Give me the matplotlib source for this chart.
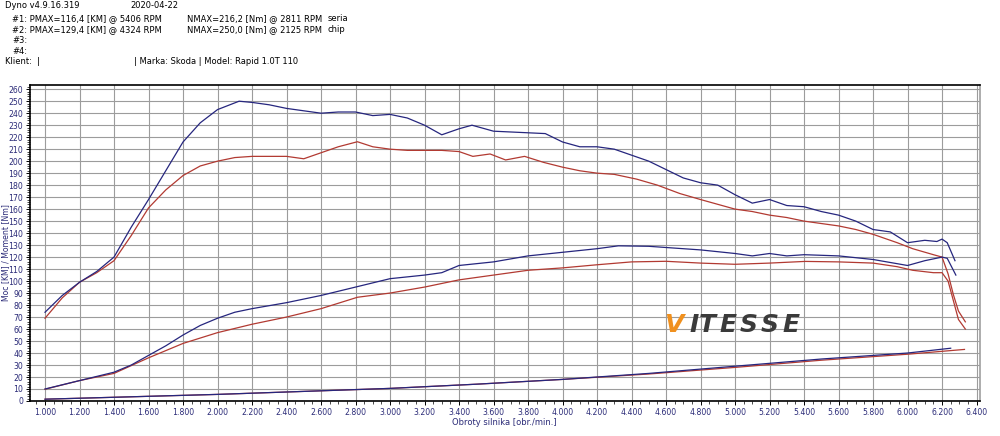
import matplotlib
matplotlib.use("Agg")
import matplotlib.pyplot as plt
from matplotlib.ticker import MultipleLocator, FuncFormatter

# === DATA ===
rpm_chip_tq = [1000, 1100, 1200, 1300, 1400, 1500, 1600, 1700, 1800, 1900, 2000, 2125, 2200, 2300,
               2400, 2500, 2600, 2700, 2800, 2900, 3000, 3100, 3200, 3300, 3400, 3475, 3600, 3750,
               3900, 4000, 4100, 4200, 4300, 4400, 4500, 4600, 4700, 4800, 4900, 5000, 5100, 5200,
               5300, 5400, 5500, 5600, 5700, 5800, 5900, 6000, 6100, 6170, 6200, 6230, 6275]
chip_torque = [74, 88, 99, 108, 120, 145, 168, 192, 216, 232, 243, 250, 249, 247,
               244, 242, 240, 241, 241, 238, 239, 236, 230, 222, 227, 230, 225, 224,
               223, 216, 212, 212, 210, 205, 200, 193, 186, 182, 180, 172, 165, 168,
               163, 162, 158, 155, 150, 143, 141, 132, 134, 133, 135, 132, 117]

rpm_seria_tq = [1000, 1100, 1200, 1300, 1400, 1500, 1600, 1700, 1800, 1900, 2000, 2100, 2200, 2400,
                2500, 2600, 2700, 2811, 2900, 3000, 3100, 3300, 3400, 3480, 3580, 3670, 3780, 3890,
                4000, 4100, 4200, 4300, 4430, 4550, 4680, 4800, 4900, 5000, 5100, 5200, 5300, 5400,
                5500, 5600, 5700, 5800, 5940, 6030, 6150, 6200, 6235, 6265, 6295, 6335]
seria_torque = [69, 86, 99, 107, 117, 138, 161, 176, 188, 196, 200, 203, 204, 204,
                202, 207, 212, 216.2, 212, 210, 209, 209, 208, 204, 206, 201, 204, 199,
                195, 192, 190, 189, 185, 180, 173, 168, 164, 160, 158, 155, 153, 150,
                148, 146, 143, 139, 132, 127, 122, 120, 106, 89, 75, 66]

rpm_chip_pw = [1000, 1200, 1400, 1500, 1600, 1700, 1800, 1900, 2000, 2100, 2200, 2400, 2600, 2800,
               3000, 3200, 3300, 3400, 3600, 3800, 4000, 4200, 4324, 4500, 4700, 4800, 5000, 5100,
               5200, 5300, 5400, 5600, 5800, 6000, 6100, 6200, 6230, 6280]
chip_power = [10, 17, 24, 30, 38, 46, 55, 63, 69, 74, 77, 82, 88, 95,
              102, 105, 107, 113, 116, 121, 124, 127, 129.4, 129, 127, 126, 123, 121,
              123, 121, 122, 121, 118, 113, 117, 120, 119, 105]

rpm_seria_pw = [1000, 1200, 1400, 1600, 1800, 2000, 2200, 2400, 2600, 2811, 3000, 3200, 3400, 3600,
                3800, 4000, 4200, 4400, 4600, 4800, 5000, 5200, 5406, 5600, 5800, 5940, 6030, 6150,
                6200, 6235, 6265, 6295, 6335]
seria_power = [9.8, 17, 23, 36, 48, 57, 64, 70, 77, 86.5, 90, 95, 101, 105,
               109, 111, 113.6, 116, 116.5, 115, 114, 115, 116.4, 116, 115, 112, 109, 107,
               107, 100, 84, 68, 60]

rpm_loss_chip = [1000, 1500, 2000, 2500, 3000, 3500, 4000, 4500, 5000, 5500, 6000, 6250]
loss_chip = [1.5, 3.5, 5.5, 8, 10.5, 14, 18, 23, 29, 35, 40, 44]
rpm_loss_seria = [1000, 1500, 2000, 2500, 3000, 3500, 4000, 4500, 5000, 5500, 6000, 6330]
loss_seria = [1.5, 3.5, 5.5, 8, 10.5, 14, 18, 22.5, 28, 34, 39, 43]

header_rows = [
    ("#1: PMAX=116,4 [KM] @ 5406 RPM", "NMAX=216,2 [Nm] @ 2811 RPM", "seria"),
    ("#2: PMAX=129,4 [KM] @ 4324 RPM", "NMAX=250,0 [Nm] @ 2125 RPM", "chip"),
    ("#3:", "", ""),
    ("#4:", "", ""),
]

BLUE = "#26267e"
RED = "#b23a32"
NAVY = "#2b2b78"

fig = plt.figure(figsize=(10, 4.36), dpi=100)
ax = fig.add_axes([0.030, 0.0803, 0.950, 0.7247])


def fy(py):
    # pixel row from top -> figure fraction
    return 1 - py / 436


# header block
hf = 6.05
fig.text(5 / 1000, fy(6), "Dyno v4.9.16.319", fontsize=hf, va="center")
fig.text(130 / 1000, fy(6), "2020-04-22", fontsize=hf, va="center")
for i, (a, b, c) in enumerate(header_rows):
    y = fy(18.5 + i * 11)
    fig.text(12 / 1000, y, a, fontsize=hf, va="center")
    if b:
        fig.text(187 / 1000, y, b, fontsize=hf, va="center")
    if c:
        fig.text(328 / 1000, y, c, fontsize=hf, va="center")
fig.text(5 / 1000, fy(62), "Klient:  |", fontsize=hf, va="center")
fig.text(134 / 1000, fy(62), "| Marka: Skoda | Model: Rapid 1.0T 110", fontsize=hf, va="center")

# curves
ax.plot(rpm_loss_seria, loss_seria, color=RED, lw=0.9)
ax.plot(rpm_loss_chip, loss_chip, color=BLUE, lw=0.9)
ax.plot(rpm_seria_pw, seria_power, color=RED, lw=0.9)
ax.plot(rpm_seria_tq, seria_torque, color=RED, lw=0.9)
ax.plot(rpm_chip_pw, chip_power, color=BLUE, lw=0.9)
ax.plot(rpm_chip_tq, chip_torque, color=BLUE, lw=0.9)

ax.set_xlim(913, 6420)
ax.set_ylim(0, 263.5)
ax.xaxis.set_major_locator(MultipleLocator(200))
ax.xaxis.set_minor_locator(MultipleLocator(50))
ax.yaxis.set_major_locator(MultipleLocator(10))
ax.yaxis.set_minor_locator(MultipleLocator(2))
ax.xaxis.set_major_formatter(FuncFormatter(lambda v, p: f"{int(v) // 1000}.{int(v) % 1000:03d}"))
ax.tick_params(axis="both", labelsize=5.6, labelcolor=NAVY, colors="black", length=3, width=0.7, pad=2)
ax.tick_params(axis="both", which="minor", length=2, width=0.5)
ax.grid(True, which="major", color="#9c9c9c", lw=0.8)
ax.set_axisbelow(True)
for s in ax.spines.values():
    s.set_linewidth(1.2)
ax.spines["right"].set_color("#a0a0a0")

ax.set_xlabel("Obroty silnika [obr./min.]", fontsize=6, color=NAVY)
ax.xaxis.set_label_coords(0.499, -0.055)
ax.set_ylabel("Moc [KM] / Moment [Nm]", fontsize=5.6, color=NAVY)
ax.yaxis.set_label_coords(-0.021, 0.47)

# watermark logo, letter by letter to get the wide look
logo_letters = ["V", "I", "T", "E", "S", "S", "E"]
logo_x = [664, 689, 699, 719, 740, 761, 782]
for i, (ch, px) in enumerate(zip(logo_letters, logo_x)):
    fig.text(px / 1000, fy(325), ch, fontsize=18, fontweight="heavy", fontstyle="italic",
             color="#f0901e" if i == 0 else "#3a3a3a",
             va="center", ha="left", family="DejaVu Sans")

fig.savefig("out.png", dpi=100)
